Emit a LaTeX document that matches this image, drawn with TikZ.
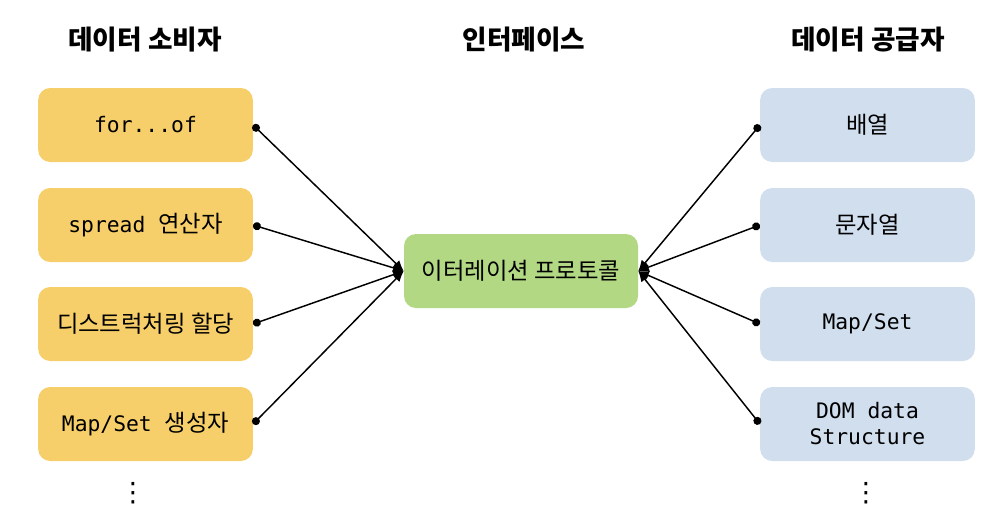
\documentclass[tikz,border=0pt]{standalone}
\usepackage{fontspec}
\usepackage{xcolor}
\usepackage{tikz}
\usetikzlibrary{positioning,arrows.meta}
\setmonofont{DejaVu Sans Mono}
\newfontfamily\cjk{Noto Sans CJK KR}
\newfontfamily\symfont{DejaVu Sans}
\newcommand{\kr}[1]{{\cjk\fontsize{17.5}{21}\selectfont #1}}
\definecolor{usergold}{HTML}{F6CF6A}
\definecolor{protogreen}{HTML}{B2D884}
\definecolor{srcblue}{HTML}{D0DEEE}

\begin{document}
\begin{tikzpicture}[
  x=0.75pt, y=-0.75pt,
  box/.style={rounded corners=9pt, minimum width=161pt, minimum height=55.5pt,
    align=center, font=\ttfamily\fontsize{16}{19.5}\selectfont, inner sep=0pt},
  user/.style={box, fill=usergold},
  src/.style={box, fill=srcblue},
  head/.style={font=\cjk\bfseries\fontsize{20}{24}\selectfont},
  more/.style={font=\symfont\fontsize{20}{24}\selectfont},
  link/.style={{Circle[length=6pt]}-{Latex[length=8pt,width=7pt]}, line width=1.1pt}
]
\useasboundingbox (0,0) rectangle (984,526);

% headings
\node[head] (hu) at (145,40) {데이터 소비자};
\node[head] (hi) at (524,40) {인터페이스};
\node[head] (hs) at (868,40) {데이터 공급자};

% consumers
\node[user] (c1) at (145.5,125) {for...of};
\node[user] (c2) at (145.5,225) {spread \kr{연산자}};
\node[user] (c3) at (145.5,324) {\kr{디스트럭처링 할당}};
\node[user] (c4) at (145.5,424) {Map/Set \kr{생성자}};
\node[more] (cdots) at (133,493) {⋮};

% interface
\node[box, fill=protogreen, minimum width=175.5pt, font=\cjk\fontsize{17.5}{21}\selectfont]
  (proto) at (521,271) {이터레이션 프로토콜};

% providers
\node[src] (p1) at (867.5,125) {\kr{배열}};
\node[src] (p2) at (867.5,225) {\kr{문자열}};
\node[src] (p3) at (867.5,324) {Map/Set};
\node[src] (p4) at (867.5,424) {DOM data\\Structure};
\node[more] (pdots) at (866,493) {⋮};

\foreach \c in {c1,c2,c3,c4}
  \draw[link] (\c.east) -- (proto.west);
\foreach \p in {p1,p2,p3,p4}
  \draw[link] (\p.west) -- (proto.east);
\end{tikzpicture}
\end{document}
